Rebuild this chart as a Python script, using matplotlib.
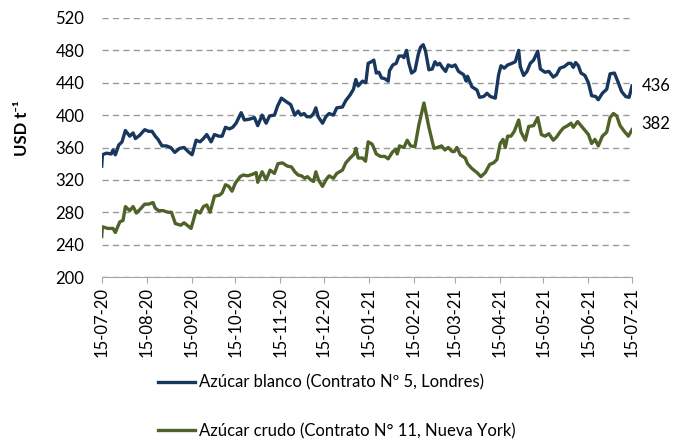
import numpy as np
import matplotlib
matplotlib.use('Agg')
import matplotlib.pyplot as plt
import matplotlib.dates as mdates
from datetime import datetime

plt.rcParams['font.family'] = ['Lato', 'DejaVu Sans']

# days counted from 15-07-2020, values in USD/t
blanco_days = [0, 0.5, 3.2, 6.6, 7.8, 9.4, 11.7, 14, 16.3, 19.3, 21.6, 23.2, 26.1, 29.6, 32.3, 34.6,
               36.9, 38.8, 41.5, 44.5, 47.5, 50.3, 53.7, 56.7, 59.5, 62.2, 65, 67.7, 70, 72.3, 75.3,
               77.6, 80.6, 82.9, 85.2, 87.9, 90.2, 92.5, 96, 98.2, 101.7, 105.1, 107.4, 110.4, 113.2,
               115.5, 118.9, 121, 123.7, 126.7, 130.1, 132.9, 135.2, 137, 139.3, 141.2, 143.9, 145.8,
               147.4, 149, 152, 154.3, 156.5, 159.5, 161.8, 165.7, 168, 171, 173.3, 174.9, 176.5,
               179.5, 181.8, 183.4, 185.7, 187.3, 189, 190.8, 192.6, 194.9, 197.2, 198.1, 200.4,
               202.7, 204.6, 206.9, 208, 209.8, 211.4, 213.3, 215.6, 217.9, 219.5, 221.3, 222.9,
               225.2, 227.5, 229.4, 231, 232.6, 234.4, 236.7, 238.5, 241, 243.3, 245.6, 249.1,
               250.9, 251.8, 254.8, 258.3, 260.1, 262.9, 265.2, 267.5, 270.9, 273.2, 274.8, 277.1,
               279.4, 282.4, 284.7, 287, 288.1, 290.4, 292.7, 295, 297.3, 300.1, 301.9, 305.1,
               307.8, 310.8, 313.1, 315.4, 318.4, 321.2, 323, 324.6, 326.2, 328.1, 329.9, 332.6,
               335, 337.2, 340, 341.8, 344.6, 347.6, 349.9, 352.9, 355.6, 357.9, 360.7, 363, 365]
blanco_vals = [337, 351, 353, 352, 357, 351, 363, 367, 381, 374, 378, 371, 375, 382, 380, 380,
               374, 370, 362, 362, 360, 354, 359, 360, 355, 351, 369, 367, 371, 376, 367,
               376, 374, 374, 385, 383, 385, 390, 403, 394, 395, 397, 387, 400, 390,
               399, 400, 411, 421, 417, 413, 400, 405, 400, 402, 398, 398, 402,
               409, 398, 390, 398, 402, 400, 409, 410, 418, 425, 432, 444, 436,
               442, 440, 464, 466, 468, 452, 453, 446, 445, 442, 455, 462,
               464, 473, 473, 471, 480, 464, 452, 455, 475, 484, 487, 479,
               456, 457, 466, 462, 464, 459, 454, 462, 460, 462, 454, 450,
               442, 448, 435, 431, 422, 423, 427, 423, 421, 450, 461, 458,
               462, 464, 466, 480, 460, 449, 454, 464, 468, 479, 457, 453,
               454, 447, 450, 458, 460, 464, 464, 459, 465, 461, 452, 449,
               440, 424, 423, 419, 427, 432, 451, 452, 440, 429, 423, 422, 436]

crudo_days = [0, 0.5, 4.3, 7.8, 9.4, 12.4, 14.7, 16.3, 19.3, 21.6, 23.9, 26.1, 29.6, 32.3, 35.3,
              36.9, 39.2, 42.2, 45.7, 48, 50.7, 54.4, 56.7, 59.5, 61.5, 65, 67.7, 70, 72.3, 74.6,
              77.6, 81, 82.9, 85.2, 87.5, 89.7, 92, 95.3, 97.5, 100.5, 104, 106.3, 107.4, 110.4,
              113.2, 115.9, 118.9, 121.3, 124.4, 127.8, 130.6, 132.9, 135.2, 137.5, 139.8, 141.6,
              143.9, 145.8, 147.4, 149.2, 152, 154.3, 156.5, 159.5, 161.8, 165.7, 168, 171, 173.8,
              174.9, 176.5, 179.5, 181.6, 183.4, 186.2, 189, 191.9, 194.9, 197.2, 200, 202.3,
              203.4, 205, 208, 210.3, 212.6, 215.6, 218.3, 221.8, 225.2, 228.7, 231, 233.9,
              236.2, 238.5, 241.3, 242.7, 244.5, 246.8, 250.2, 251.8, 254.8, 258.3, 261, 264,
              267, 269.7, 272, 274.3, 276.2, 277.8, 279.4, 281.7, 284, 287, 288.6, 291.6, 293.9,
              297.3, 300.1, 302.6, 305.1, 307.8, 310.8, 313.1, 315.4, 317.7, 320.7, 323, 324.6,
              327.6, 329.9, 332.6, 335, 337.2, 339.5, 341.8, 344.6, 347.6, 349.9, 352.2, 354.5,
              356.8, 359.7, 362.5, 365]
crudo_vals = [250, 262, 260, 260, 255, 268, 270, 287, 282, 287, 279, 283, 290, 290, 292,
              285, 282, 282, 280, 280, 266, 264, 267, 263, 260, 282, 279, 287, 289, 280,
              300, 301, 304, 314, 312, 306, 316, 324, 326, 325, 327, 329, 317, 330,
              320, 332, 328, 340, 341, 337, 336, 330, 326, 325, 322, 324,
              320, 318, 330, 320, 312, 320, 325, 322, 328, 332, 341, 347, 352,
              359, 347, 347, 343, 367, 364, 352, 349, 349, 346, 354, 358,
              352, 362, 360, 369, 362, 361, 388, 415, 385, 359, 360, 362,
              357, 360, 355, 355, 360, 351, 347, 340, 334, 329, 324, 329,
              339, 341, 345, 365, 370, 360, 374, 374, 380, 394, 379, 369, 386,
              387, 397, 376, 374, 377, 369, 373, 379, 384, 387, 390, 385,
              392, 387, 381, 376, 365, 370, 362, 374, 379, 397, 402, 399,
              387, 380, 374, 382]

blanco_label = 'Azúcar blanco (Contrato Nº 5, Londres)'
crudo_label = 'Azúcar crudo (Contrato N° 11, Nueva York)'
y_ticks = [200, 240, 280, 320, 360, 400, 440, 480, 520]

start = mdates.date2num(datetime(2020, 7, 15))
end = mdates.date2num(datetime(2021, 7, 15))

fig = plt.figure(figsize=(6.86, 4.40), dpi=100)
ax = fig.add_axes([101.7/686, 1-277/440, (632-101.7)/686, (277-18)/440])

l1, = ax.plot(start + np.array(blanco_days), blanco_vals, color='#17375E', lw=2.4, solid_joinstyle='round')
l2, = ax.plot(start + np.array(crudo_days), crudo_vals, color='#4F6228', lw=2.4, solid_joinstyle='round')

ax.set_xlim(start, end)
ax.set_ylim(200, 520)
ax.set_yticks(y_ticks)
ax.yaxis.grid(True, color='#999999', lw=1, dashes=(4.5, 3))
ax.set_axisbelow(True)

ax.xaxis.set_major_locator(mdates.MonthLocator(bymonthday=15))
ax.xaxis.set_major_formatter(mdates.DateFormatter('%d-%m-%y'))
plt.setp(ax.get_xticklabels(), rotation=90)

for s in ['left', 'top', 'right']:
    ax.spines[s].set_visible(False)
ax.spines['bottom'].set_color('#A6A6A6')
ax.tick_params(axis='x', length=4, color='#A6A6A6', pad=3, labelsize=12)
ax.tick_params(axis='y', length=0, pad=12.5, labelsize=12)

ax.set_ylabel('USD t⁻¹', fontsize=12, fontweight='bold')
ax.yaxis.set_label_coords(-0.135, 0.575)

# end labels
ax.annotate(str(blanco_vals[-1]), (start + blanco_days[-1], blanco_vals[-1]), xytext=(7, 0),
            textcoords='offset points', va='center', fontsize=12)
ax.annotate(str(crudo_vals[-1]), (start + crudo_days[-1], crudo_vals[-1]), xytext=(7, 4),
            textcoords='offset points', va='center', fontsize=12)

fig.legend([l1, l2], [blanco_label, crudo_label], loc='upper left',
           bbox_to_anchor=(158/686, 1-374.7/440), frameon=False, fontsize=12,
           borderpad=0, borderaxespad=0, handlelength=2.2, handletextpad=0.24,
           labelspacing=1.93)

fig.savefig('out.png', dpi=100)
